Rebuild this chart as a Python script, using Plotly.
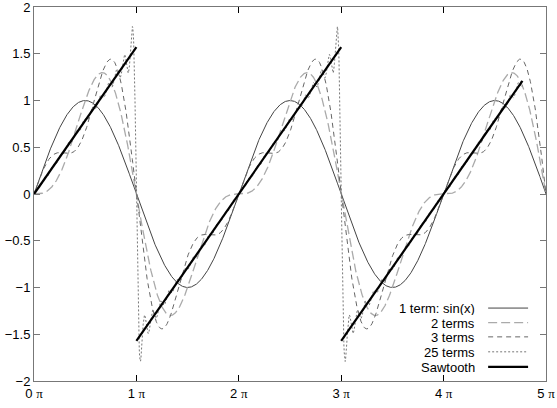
import numpy as np
import plotly.graph_objects as go

PI = np.pi

# partial Fourier sums of the sawtooth x/2 (period 2 pi)
term_counts = [1, 2, 3, 25]
term_names = ["1 term: sin(x)", "2 terms", "3 terms", "25 terms"]
term_xend = [5, 5, 5, 4.77]  # where each curve stops, in units of pi
term_colors = ["#444444", "#aaaaaa", "#666666", "#777777"]
term_dashes = ["solid", "9px,4px", "5px,4px", "2px,2px"]
term_widths = [1, 1.3, 1, 1]

# sawtooth segments (x in units of pi)
saw_x = [0, 1, None, 1, 3, None, 3, 4.77]
saw_y = [0, 1.571, None, -1.571, 1.571, None, -1.571, 1.21]

xticks = [0, 1, 2, 3, 4, 5]
xticklabels = ["0", "1", "2", "3", "4", "5"]
yticks = [-2, -1.5, -1, -0.5, 0, 0.5, 1, 1.5, 2]

fig = go.Figure()
for n, name, xe, col, dash, w in zip(term_counts, term_names, term_xend, term_colors,
                                     term_dashes, term_widths):
    x = np.linspace(0, xe * PI, 1500)
    y = np.zeros_like(x)
    for k in range(1, n + 1):
        y += (-1) ** (k + 1) * np.sin(k * x) / k
    fig.add_trace(go.Scatter(x=x, y=y, mode="lines", name=name,
                             line=dict(color=col, width=w, dash=dash)))

fig.add_trace(go.Scatter(x=[v * PI if v is not None else None for v in saw_x], y=saw_y,
                         mode="lines", name="Sawtooth",
                         line=dict(color="black", width=2.2)))

# gnuplot style key: text on the left, line sample on the right
names = term_names + ["Sawtooth"]
colors = term_colors + ["black"]
dashes = term_dashes + ["solid"]
widths = term_widths + [2.2]
rows = [0.195, 0.156, 0.118, 0.078, 0.038]
shapes = []
annotations = []
for name, col, dash, w, ry in zip(names, colors, dashes, widths, rows):
    annotations.append(dict(x=0.866, y=ry, xref="paper", yref="paper", text=name,
                            showarrow=False, xanchor="right", yanchor="middle",
                            height=14, font=dict(size=13, color="black")))
    shapes.append(dict(type="line", xref="paper", yref="paper", x0=0.887, x1=0.965,
                       y0=ry, y1=ry, line=dict(color=col, width=w, dash=dash)))

pi_span = " <span style='font-family:Liberation Serif'>\u03c0</span>"

fig.update_layout(
    width=557, height=408,
    margin=dict(l=34, r=11, t=7, b=27),
    paper_bgcolor="white", plot_bgcolor="white",
    showlegend=False,
    font=dict(family="Liberation Sans, Arial, sans-serif", size=13, color="black"),
    shapes=shapes, annotations=annotations,
)
fig.update_xaxes(range=[0, 5 * PI], tickvals=[t * PI for t in xticks],
                 ticktext=[t + pi_span for t in xticklabels],
                 ticks="inside", ticklen=6, tickcolor="black", mirror="ticks",
                 showline=True, linecolor="#777777", linewidth=1, showgrid=False,
                 zeroline=False, automargin=False, ticklabeloverflow="allow")
fig.update_yaxes(range=[-2, 2], tickvals=yticks, ticks="inside", ticklen=6,
                 tickcolor="#777777", mirror="ticks", showline=True, linecolor="#777777",
                 linewidth=1, showgrid=False, zeroline=False, automargin=False,
                 ticklabeloverflow="allow")

fig.write_html("out.html", config={"displayModeBar": False},
               post_script="document.body.style.margin='0';")
